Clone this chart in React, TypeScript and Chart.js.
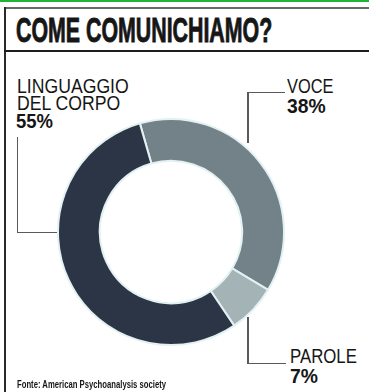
import React, { useEffect, useRef } from "react";
import { Chart, registerables } from "chart.js";

Chart.register(...registerables);

const categories = ["VOCE", "PAROLE", "LINGUAGGIO DEL CORPO"];
const values = [38, 7, 55];
const segmentColors = ["#738289", "#a3b3b6", "#2c3546"];
const title = "COME COMUNICHIAMO?";
const source = "Fonte: American Psychoanalysis society";

const FONT = "'Liberation Sans', Arial, sans-serif";

function Txt(props: { x: number; y: number; size: number; bold?: boolean; sx: number; children: React.ReactNode; stroke?: number }) {
  const { x, y, size, bold, sx, children, stroke } = props;
  return (
    <div
      style={{
        position: "absolute",
        left: x,
        top: y,
        fontFamily: FONT,
        fontSize: size,
        lineHeight: `${size}px`,
        fontWeight: bold ? 700 : 400,
        color: "#161616",
        whiteSpace: "nowrap",
        transform: `scaleX(${sx})`,
        transformOrigin: "left top",
        WebkitTextStroke: stroke ? `${stroke}px #161616` : undefined,
      }}
    >
      {children}
    </div>
  );
}

function Line(props: { x: number; y: number; w: number; h: number; c?: string }) {
  return (
    <div
      style={{
        position: "absolute",
        left: props.x,
        top: props.y,
        width: props.w,
        height: props.h,
        background: props.c || "#5a5a5a",
      }}
    />
  );
}

export default function App() {
  const ref = useRef<HTMLCanvasElement | null>(null);

  useEffect(() => {
    if (!ref.current) return;
    const chart = new Chart(ref.current, {
      type: "doughnut",
      data: {
        labels: categories,
        datasets: [
          {
            data: values,
            backgroundColor: segmentColors,
            borderColor: "#e2f1f1",
            borderWidth: 2,
          },
        ],
      },
      options: {
        responsive: false,
        animation: false,
        cutout: "63%",
        rotation: -16,
        layout: { padding: 0 },
        plugins: {
          legend: { display: false },
          tooltip: { enabled: false },
        },
      },
    });
    return () => chart.destroy();
  }, []);

  return (
    <div
      style={{
        position: "fixed",
        left: 0,
        top: 0,
        width: 369,
        height: 392,
        background: "#ffffff",
        overflow: "hidden",
      }}
    >
      <Line x={0} y={0} w={369} h={2} c="#1fb33e" />
      <Line x={4} y={7} w={365} h={1.5} c="#6a6a6a" />
      <Line x={4} y={7} w={1.5} h={385} c="#2a2a2a" />
      <Line x={4} y={50} w={365} h={2} c="#1e1e1e" />
      <Txt x={16} y={12.4} size={35} bold sx={0.61} stroke={0.9}>
        {title}
      </Txt>

      <canvas
        ref={ref}
        width={228}
        height={228}
        style={{ position: "absolute", left: 57, top: 118, width: 228, height: 228 }}
      />

      <Txt x={17} y={75} size={21} sx={0.84}>LINGUAGGIO</Txt>
      <Txt x={17} y={92} size={21} sx={0.84}>DEL CORPO</Txt>
      <Txt x={16} y={110} size={21} bold sx={0.88}>55%</Txt>
      <Line x={16.5} y={137} w={1.5} h={96} />
      <Line x={16.5} y={231.5} w={40} h={1.5} />

      <Txt x={287} y={75} size={21} sx={0.78}>VOCE</Txt>
      <Txt x={287} y={95} size={21} bold sx={0.92}>38%</Txt>
      <Line x={247} y={91.5} w={38} h={1.5} />
      <Line x={247} y={91.5} w={1.5} h={51} />

      <Txt x={290} y={345} size={21} sx={0.8}>PAROLE</Txt>
      <Txt x={290} y={365} size={21} bold sx={0.92}>7%</Txt>
      <Line x={247} y={317} w={1.5} h={47} />
      <Line x={247} y={362.5} w={39} h={1.5} />

      <Txt x={17} y={378.7} size={11} bold sx={0.7}>{source}</Txt>
    </div>
  );
}
